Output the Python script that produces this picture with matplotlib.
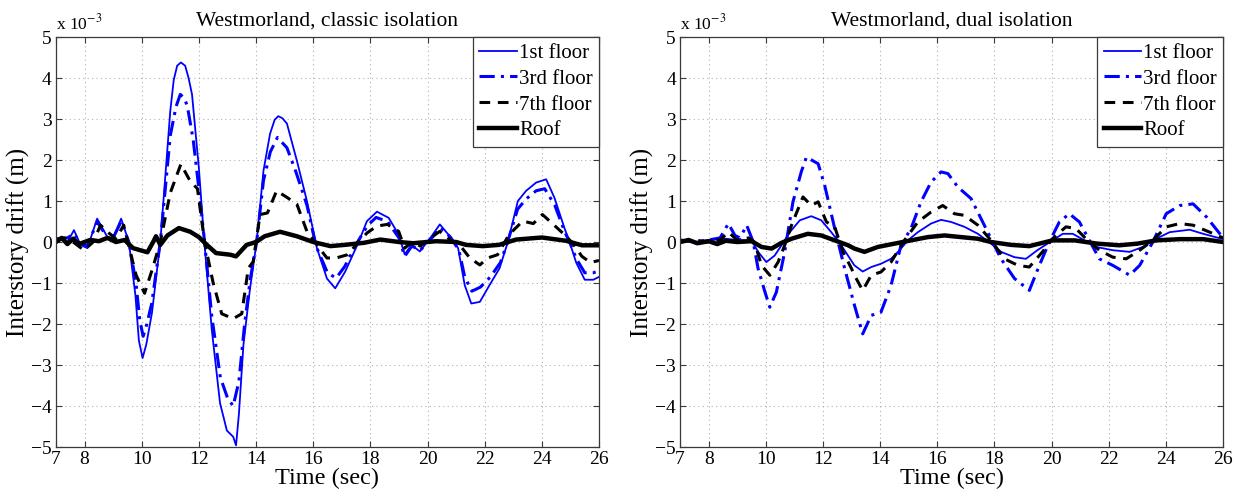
import matplotlib
matplotlib.use("Agg")
import matplotlib.pyplot as plt

plt.rcParams['font.family'] = ['Liberation Serif', 'DejaVu Serif']
plt.rcParams['mathtext.fontset'] = 'stix'

# drift values in units of 1e-3 m
# --- classic isolation ---
t_c1 = [7.0, 7.16, 7.4, 7.63, 7.86, 8.1, 8.44, 8.8, 9.0, 9.28, 9.55, 9.78, 9.9, 10.03, 10.16, 10.36,
        10.65, 11.0, 11.12, 11.24, 11.37, 11.52, 11.64, 11.76, 12.0, 12.19, 12.45, 12.74, 12.98,
        13.2, 13.3, 13.4, 13.56, 13.79, 14.02, 14.26, 14.49, 14.65, 14.78, 14.92, 15.08, 15.43,
        15.78, 16.13, 16.48, 16.77, 17.12, 17.59, 17.88, 18.23, 18.64, 18.99, 19.2, 19.44, 19.73,
        20.14, 20.43, 20.78, 21.07, 21.3, 21.53, 21.83, 22.17, 22.52, 22.81, 23.16, 23.45, 23.8,
        24.15, 24.44, 24.79, 24.97, 25.2, 25.5, 25.8, 26.0]
c_floor1 = [0.05, 0.1, 0.0, 0.29, -0.07, -0.15, 0.57, 0.12, 0.1, 0.57, 0.0, -1.3, -2.4, -2.83, -2.5, -1.72,
            0.0, 3.2, 3.95, 4.3, 4.38, 4.3, 4.0, 3.6, 1.8, 0.0, -2.13, -3.93, -4.6,
            -4.75, -4.96, -4.2, -2.5, -1.13, 0.0, 1.74, 2.64, 2.98, 3.07, 3.02, 2.89, 1.98,
            1.0, -0.15, -0.89, -1.13, -0.72, 0.0, 0.51, 0.74, 0.59, 0.18, -0.3, -0.07, -0.23,
            0.14, 0.43, 0.14, -0.15, -1.05, -1.5, -1.46, -1.05, -0.64, 0.0, 1.0, 1.25, 1.45,
            1.53, 1.08, 0.34, 0.0, -0.5, -0.92, -0.92, -0.85]

t_c3 = [7.0, 7.4, 7.63, 7.9, 8.1, 8.44, 8.8, 9.0, 9.28, 9.55, 9.8, 9.93, 10.05, 10.18, 10.35, 10.65,
        11.0, 11.2, 11.35, 11.5, 11.6, 11.8, 12.0, 12.2, 12.45, 12.75, 13.0, 13.2, 13.4, 13.6,
        13.8, 14.02, 14.26, 14.5, 14.75, 15.08, 15.4, 15.78, 16.1, 16.5, 16.8, 17.1, 17.55, 17.9,
        18.2, 18.6, 19.0, 19.2, 19.45, 19.75, 20.15, 20.45, 20.8, 21.1, 21.3, 21.55, 21.85, 22.2,
        22.55, 22.8, 23.15, 23.45, 23.8, 24.1, 24.45, 24.8, 25.0, 25.2, 25.5, 25.8, 26.0]
c_floor3 = [0.08, 0.1, 0.2, -0.05, -0.1, 0.5, 0.1, 0.1, 0.5, 0.0, -1.0, -1.9, -2.3, -2.0, -1.5, 0.0,
            2.6, 3.3, 3.6, 3.5, 3.3, 2.5, 1.3, 0.0, -1.8, -3.3, -3.8, -4.0, -3.4, -2.0,
            -0.9, 0.0, 1.5, 2.2, 2.55, 2.3, 1.7, 0.9, -0.1, -0.75, -0.88, -0.6, 0.0, 0.4,
            0.6, 0.5, 0.1, -0.35, -0.1, -0.2, 0.1, 0.35, 0.12, -0.2, -0.85, -1.2, -1.1, -0.85,
            -0.5, 0.0, 0.8, 1.05, 1.25, 1.3, 0.9, 0.25, -0.05, -0.4, -0.75, -0.75, -0.7]

t_c7 = [7.0, 7.3, 7.6, 7.98, 8.3, 8.56, 8.85, 9.1, 9.37, 9.55, 9.8, 10.1, 10.4, 10.65, 11.0,
        11.37, 11.7, 11.95, 12.2, 12.5, 12.8, 13.2, 13.5, 13.73, 13.9, 14.14, 14.4, 14.72,
        15.1, 15.43, 15.78, 16.13, 16.48, 16.8, 17.2, 17.59, 17.88, 18.23, 18.6, 18.99, 19.2,
        19.45, 19.75, 20.1, 20.43, 20.8, 21.1, 21.48, 21.83, 22.1, 22.45, 22.85, 23.33, 23.7,
        24.02, 24.4, 24.85, 25.1, 25.4, 25.7, 26.0]
c_floor7 = [0.05, 0.1, 0.0, -0.2, 0.0, 0.41, 0.22, 0.08, 0.41, -0.1, -0.8, -1.25, -0.6, 0.0, 1.2,
            1.9, 1.48, 1.3, 0.0, -1.0, -1.75, -1.87, -1.75, -0.64, -0.48, 0.67, 0.71, 1.25,
            1.08, 0.92, 0.26, -0.07, -0.39, -0.39, -0.31, 0.0, 0.22, 0.39, 0.43, 0.26, -0.15,
            0.0, -0.1, 0.1, 0.26, 0.05, -0.05, -0.39, -0.56, -0.39, -0.31, 0.18, 0.51, 0.45,
            0.67, 0.43, 0.14, -0.05, -0.35, -0.5, -0.45]

t_croof = [7.0, 7.2, 7.4, 7.6, 7.8, 8.0, 8.2, 8.5, 8.8, 9.1, 9.4, 9.7, 9.95, 10.2, 10.4, 10.5,
           10.65, 10.9, 11.3, 11.7, 12.0, 12.28, 12.6, 13.1, 13.3, 13.67, 14.0, 14.3, 14.84,
           15.43, 16.0, 16.6, 17.1, 17.77, 18.35, 19.0, 19.5, 20.3, 21.0, 21.35, 21.93, 22.5,
           23.1, 24.0, 24.85, 25.4, 26.0]
c_roof = [0.0, 0.1, -0.05, 0.08, -0.05, 0.0, 0.05, 0.02, 0.1, 0.0, 0.05, -0.15, -0.2, -0.25, 0.0,
          0.14, -0.07, 0.16, 0.34, 0.25, 0.12, -0.07, -0.27, -0.31, -0.35, -0.07, 0.0, 0.14, 0.25,
          0.14, 0.0, -0.1, -0.07, -0.02, 0.06, 0.0, -0.03, 0.02, 0.0, -0.07, -0.1, -0.07,
          0.06, 0.11, 0.03, -0.08, -0.08]

# --- dual isolation ---
t_d1 = [7.0, 7.5, 8.0, 8.57, 9.0, 9.5, 9.73, 10.02, 10.31, 10.55, 10.84, 11.19, 11.59, 11.94,
        12.29, 12.64, 13.1, 13.39, 13.69, 14.03, 14.38, 14.68, 14.97, 15.32, 15.78, 16.13,
        16.48, 16.95, 17.42, 17.88, 18.23, 18.7, 19.1, 19.5, 20.03, 20.39, 20.74, 21.15, 21.56,
        22.14, 22.73, 23.19, 23.66, 24.13, 24.83, 25.3, 26.0]
d_floor1 = [0.05, 0.0, 0.05, 0.08, 0.05, 0.04, -0.24, -0.49, -0.33, -0.08, 0.24, 0.53, 0.63, 0.53,
            0.24, -0.08, -0.57, -0.72, -0.61, -0.53, -0.41, -0.2, 0.04, 0.24, 0.45, 0.54,
            0.49, 0.37, 0.2, -0.04, -0.24, -0.37, -0.41, -0.2, 0.04, 0.2, 0.2, 0.04, -0.12,
            -0.2, -0.24, -0.12, 0.08, 0.24, 0.3, 0.2, 0.07]

t_d3 = [7.0, 7.5, 8.0, 8.4, 8.69, 8.92, 9.1, 9.33, 9.56, 9.73, 9.97, 10.14, 10.37, 10.66, 10.95,
        11.24, 11.42, 11.83, 12.06, 12.41, 12.76, 13.1, 13.39, 13.69, 14.03, 14.38, 14.73,
        15.08, 15.43, 15.78, 16.13, 16.37, 16.72, 17.18, 17.53, 17.88, 18.23, 18.7, 19.22,
        19.57, 19.92, 20.27, 20.62, 20.97, 21.32, 21.67, 22.14, 22.73, 23.08, 23.54, 24.01,
        24.48, 24.95, 25.42, 26.0]
d_floor3 = [0.05, 0.0, 0.05, 0.1, 0.45, 0.16, 0.1, 0.41, 0.0, -0.65, -1.22, -1.59, -1.22, -0.24, 0.98,
            1.71, 2.07, 1.91, 1.38, 0.33, -0.65, -1.54, -2.24, -1.79, -1.71, -1.06, -0.08,
            0.33, 0.98, 1.46, 1.71, 1.67, 1.34, 1.06, 0.57, 0.08, -0.41, -0.89, -1.18,
            -0.57, 0.0, 0.49, 0.69, 0.49, 0.04, -0.41, -0.57, -0.81, -0.57, 0.0, 0.69,
            0.89, 0.93, 0.61, 0.1]

t_d7 = [7.0, 7.5, 8.0, 8.4, 8.69, 9.0, 9.4, 9.6, 9.85, 10.14, 10.43, 10.66, 10.9, 11.3, 11.59,
        11.83, 12.12, 12.41, 12.7, 13.0, 13.1, 13.39, 13.69, 14.03, 14.38, 14.85, 15.32, 15.78,
        16.19, 16.6, 16.95, 17.42, 17.88, 18.35, 18.82, 19.22, 19.68, 20.03, 20.5, 20.85, 21.2,
        21.67, 22.14, 22.61, 23.08, 23.54, 24.01, 24.48, 24.95, 25.53, 26.0]
d_floor7 = [0.0, 0.05, 0.0, 0.05, 0.24, 0.05, 0.1, 0.0, -0.57, -0.81, -0.49, -0.08, 0.41, 1.1, 0.89,
            0.98, 0.49, 0.37, -0.24, -0.65, -0.81, -1.18, -0.81, -0.73, -0.49, 0.04, 0.49, 0.73,
            0.89, 0.69, 0.65, 0.41, 0.04, -0.41, -0.57, -0.61, -0.24, 0.08, 0.37, 0.33, 0.08,
            -0.2, -0.37, -0.41, -0.2, 0.04, 0.37, 0.45, 0.41, 0.24, 0.1]

t_droof = [7.0, 7.3, 7.6, 8.0, 8.3, 8.6, 9.0, 9.5, 9.85, 10.2, 10.55, 10.9, 11.47, 11.94, 12.41,
           12.88, 13.1, 13.45, 13.92, 14.5, 15.08, 15.67, 16.25, 16.83, 17.42, 17.88, 18.58,
           19.22, 20.03, 20.8, 21.6, 22.37, 23.0, 23.66, 24.48, 25.3, 26.0]
d_roof = [0.0, 0.05, -0.03, 0.02, -0.05, 0.03, 0.0, 0.02, -0.12, -0.16, -0.02, 0.08, 0.2, 0.16, 0.04,
          -0.08, -0.16, -0.24, -0.12, -0.04, 0.04, 0.12, 0.16, 0.12, 0.08, 0.0, -0.07,
          -0.1, 0.04, 0.04, -0.04, -0.08, -0.04, 0.04, 0.07, 0.07, 0.0]

labels = ['1st floor', '3rd floor', '7th floor', 'Roof']
x_ticks = [7, 8, 10, 12, 14, 16, 18, 20, 22, 24, 26]
y_ticks = [-5, -4, -3, -2, -1, 0, 1, 2, 3, 4, 5]

BLUE = '#0000ff'
AX_COL = '#3a3a3a'


def draw_panel(ax, title, series):
    (t1, f1), (t3, f3), (t7, f7), (tr, fr) = series
    ax.plot(t1, f1, color=BLUE, lw=1.3, ls='-', label=labels[0])
    ax.plot(t3, f3, color=BLUE, lw=2.2, ls=(0, (5, 2, 1, 2)), label=labels[1])
    ax.plot(t7, f7, color='black', lw=2.2, ls=(0, (3.5, 2.5)), label=labels[2])
    ax.plot(tr, fr, color='black', lw=3.2, ls='-', label=labels[3])

    ax.set_xlim(7, 26)
    ax.set_ylim(-5, 5)
    ax.set_xticks(x_ticks)
    ax.set_yticks(y_ticks)
    ax.tick_params(direction='in', top=True, right=True, labelsize=14,
                   length=4, color=AX_COL, pad=3)
    for s in ax.spines.values():
        s.set_color(AX_COL)
        s.set_linewidth(0.9)
    ax.grid(True, ls=(0, (1, 3)), color='#b0b0b0', lw=0.8)
    ax.set_axisbelow(True)

    ax.set_title(title, fontsize=15.5, pad=8)
    ax.set_xlabel('Time (sec)', fontsize=17.5, labelpad=0)
    ax.set_ylabel('Interstory drift (m)', fontsize=18, labelpad=1)
    ax.text(0.0, 1.008, r'x 10$^{-3}$', transform=ax.transAxes,
            ha='left', va='bottom', fontsize=12.5)

    leg = ax.legend(loc='upper right', fontsize=15, handlelength=1.8, handletextpad=0.1,
                    labelspacing=0.3, borderaxespad=0.0, borderpad=0.3,
                    fancybox=False, framealpha=1.0)
    leg.get_frame().set_edgecolor(AX_COL)
    leg.get_frame().set_linewidth(0.9)


fig = plt.figure(figsize=(12.41, 4.99), dpi=100)
ax1 = fig.add_axes([0.0451, 0.1042, 0.4376, 0.8216])
ax2 = fig.add_axes([0.5480, 0.1042, 0.4376, 0.8216])

draw_panel(ax1, 'Westmorland, classic isolation',
           [(t_c1, c_floor1), (t_c3, c_floor3), (t_c7, c_floor7), (t_croof, c_roof)])
draw_panel(ax2, 'Westmorland, dual isolation',
           [(t_d1, d_floor1), (t_d3, d_floor3), (t_d7, d_floor7), (t_droof, d_roof)])

fig.savefig('out.png', dpi=100)
